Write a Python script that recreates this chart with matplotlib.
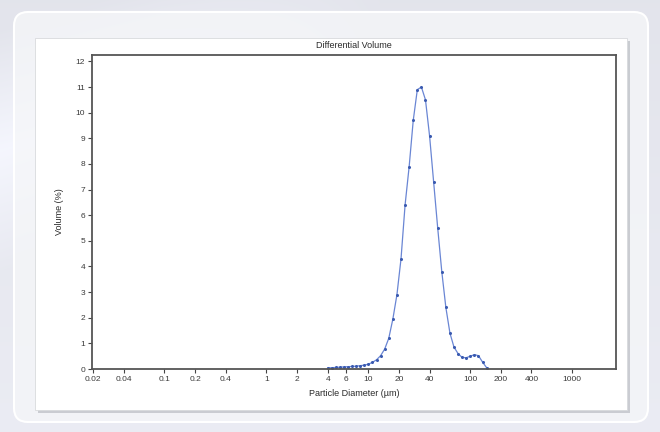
import numpy as np
import matplotlib
matplotlib.use("Agg")
import matplotlib.pyplot as plt
from matplotlib.patches import FancyBboxPatch, Rectangle
from matplotlib.ticker import FixedLocator, NullLocator

plt.rcParams['font.family'] = ['Liberation Sans', 'DejaVu Sans']

title = "Differential Volume"
xlabel = "Particle Diameter (µm)"
ylabel = "Volume (%)"

diameter_um = [4.0, 4.39, 4.81, 5.27, 5.78, 6.34, 6.95, 7.62, 8.36, 9.16,
               10.05, 11.02, 12.08, 13.24, 14.52, 15.92, 17.46, 19.14, 20.99, 23.01,
               25.23, 27.67, 30.34, 33.27, 36.48, 40.0, 43.85, 48.08, 52.72, 57.81,
               63.39, 69.5, 76.2, 83.6, 91.6, 100.5, 110.2, 120.8, 132.4, 145.2]
volume_pct = [0.04, 0.05, 0.06, 0.07, 0.08, 0.09, 0.10, 0.11, 0.13, 0.15,
              0.19, 0.26, 0.36, 0.52, 0.78, 1.20, 1.95, 2.9, 4.3, 6.4,
              7.9, 9.7, 10.9, 11.0, 10.5, 9.1, 7.3, 5.5, 3.8, 2.4,
              1.4, 0.85, 0.6, 0.45, 0.44, 0.5, 0.56, 0.52, 0.27, 0.05]

xtick_values = [0.02, 0.04, 0.1, 0.2, 0.4, 1, 2, 4, 6, 10, 20, 40, 100, 200, 400, 1000]
xtick_labels = ["0.02", "0.04", "0.1", "0.2", "0.4", "1", "2", "4", "6", "10",
                "20", "40", "100", "200", "400", "1000"]
ytick_values = list(range(0, 13))

W, H = 660, 432
fig = plt.figure(figsize=(W / 100, H / 100), dpi=100)

# background
bg = fig.add_axes([0, 0, 1, 1], zorder=-10)
bg.set_xlim(0, W)
bg.set_ylim(H, 0)
bg.axis('off')
yy, xx = np.mgrid[0:H, 0:W]
base = np.ones((H, W, 3))
g = 0.895 + 0.03 * (yy / H)
base[..., 0] = g - 0.005
base[..., 1] = g
base[..., 2] = g + 0.03
# light swoosh upper-left
sw = np.clip(1 - np.abs((yy - (150 - xx * 0.28))) / 120.0, 0, 1) * np.clip((380 - xx) / 220, 0, 1)
for c in range(3):
    base[..., c] = np.clip(base[..., c] + 0.06 * sw, 0, 1)
bg.imshow(base, extent=[0, W, H, 0], aspect='auto', zorder=0)

outer = FancyBboxPatch((14, 12), 634, 410, boxstyle="round,pad=0,rounding_size=14",
                       facecolor=(0.965, 0.968, 0.975, 0.75), edgecolor='white', linewidth=1.5, zorder=1)
bg.add_patch(outer)
shadow = Rectangle((38, 41), 592, 372, facecolor='#9a9ea6', edgecolor='none', alpha=0.45, zorder=2)
bg.add_patch(shadow)
card = Rectangle((35, 38), 592, 372, facecolor='white', edgecolor='#d8dadd', linewidth=0.6, zorder=3)
bg.add_patch(card)

ax = fig.add_axes([92 / W, 1 - 369 / H, (616 - 92) / W, (369 - 55) / H])
ax.plot(diameter_um, volume_pct, color='#6a86d4', linewidth=0.9, marker='o',
        markersize=1.2, markerfacecolor='#3a5ab0', markeredgecolor='#3a5ab0')
ax.set_xscale('log')
ax.set_xlim(0.0195, 2700)
ax.set_ylim(0, 12.25)
ax.xaxis.set_major_locator(FixedLocator(xtick_values))
ax.set_xticklabels(xtick_labels)
ax.xaxis.set_minor_locator(NullLocator())
ax.set_yticks(ytick_values)
ax.tick_params(axis='both', direction='out', length=3, width=0.8, color='#444444',
               labelsize=6, labelcolor='#3a3a3a', pad=2)
for s in ax.spines.values():
    s.set_color('#555555')
    s.set_linewidth(1.3)
ax.set_title(title, fontsize=6.5, color='#2a2a2a', pad=5)
ax.set_xlabel(xlabel, fontsize=6.5, color='#2a2a2a', labelpad=4)
ax.set_ylabel(ylabel, fontsize=6.5, color='#2a2a2a', labelpad=8)

fig.savefig("out.png", dpi=100)
